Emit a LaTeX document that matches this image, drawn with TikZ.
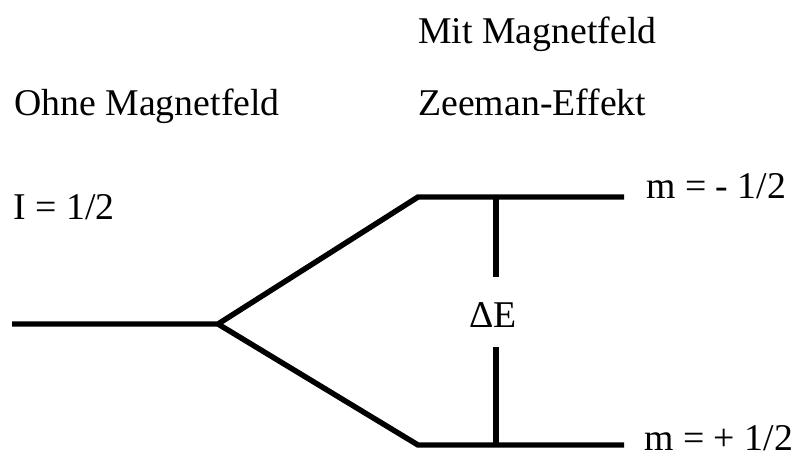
\documentclass[tikz,border=0pt]{standalone}
\usepackage{fontspec}
\setmainfont{Liberation Serif}
\usetikzlibrary{positioning}
\tikzset{
level/.style={
	line width=3.1pt,
	draw=black,
	line cap=butt,
	line join=miter
},
lbl/.style={
	font=\fontsize{21.5}{26}\selectfont,
	inner sep=0pt,
	anchor=base west
}
}
\begin{document}
\begin{tikzpicture}[x=0.02cm, y=-0.02cm]
\useasboundingbox (0,0) rectangle (794,456);
% ===== Headings =====
\node (ohne)   [lbl] at (14,115)  {Ohne Magnetfeld};
\node (mit)    [lbl] at (418,44)  {Mit Magnetfeld};
\node (zeeman) [lbl] at (418,115) {Zeeman-Effekt};
\node (spin)   [lbl] at (13,219)  {I = 1/2};
% ===== Energy levels =====
\coordinate (start) at (12,324);
\coordinate (split) at (218,324);
\coordinate (upL)   at (418,197);
\coordinate (upR)   at (624,197);
\coordinate (loL)   at (418,445);
\coordinate (loR)   at (624,445);
\node (mminus) [lbl] at (646,198) {m = - 1/2};
\node (mplus)  [lbl] at (644,450) {m = + 1/2};
\draw [level] (start) -- (split) -- (upL) -- (upR);
\draw [level] (split) -- (loL) -- (loR);
% ===== Splitting Delta E =====
\node (dE) [lbl, anchor=base] at (493,327) {ΔE};
\coordinate (gapTop) at (496,277);
\coordinate (gapBot) at (496,347);
\draw [level] (gapTop |- upR) -- (gapTop);
\draw [level] (gapBot) -- (gapBot |- loR);
\end{tikzpicture}
\end{document}
